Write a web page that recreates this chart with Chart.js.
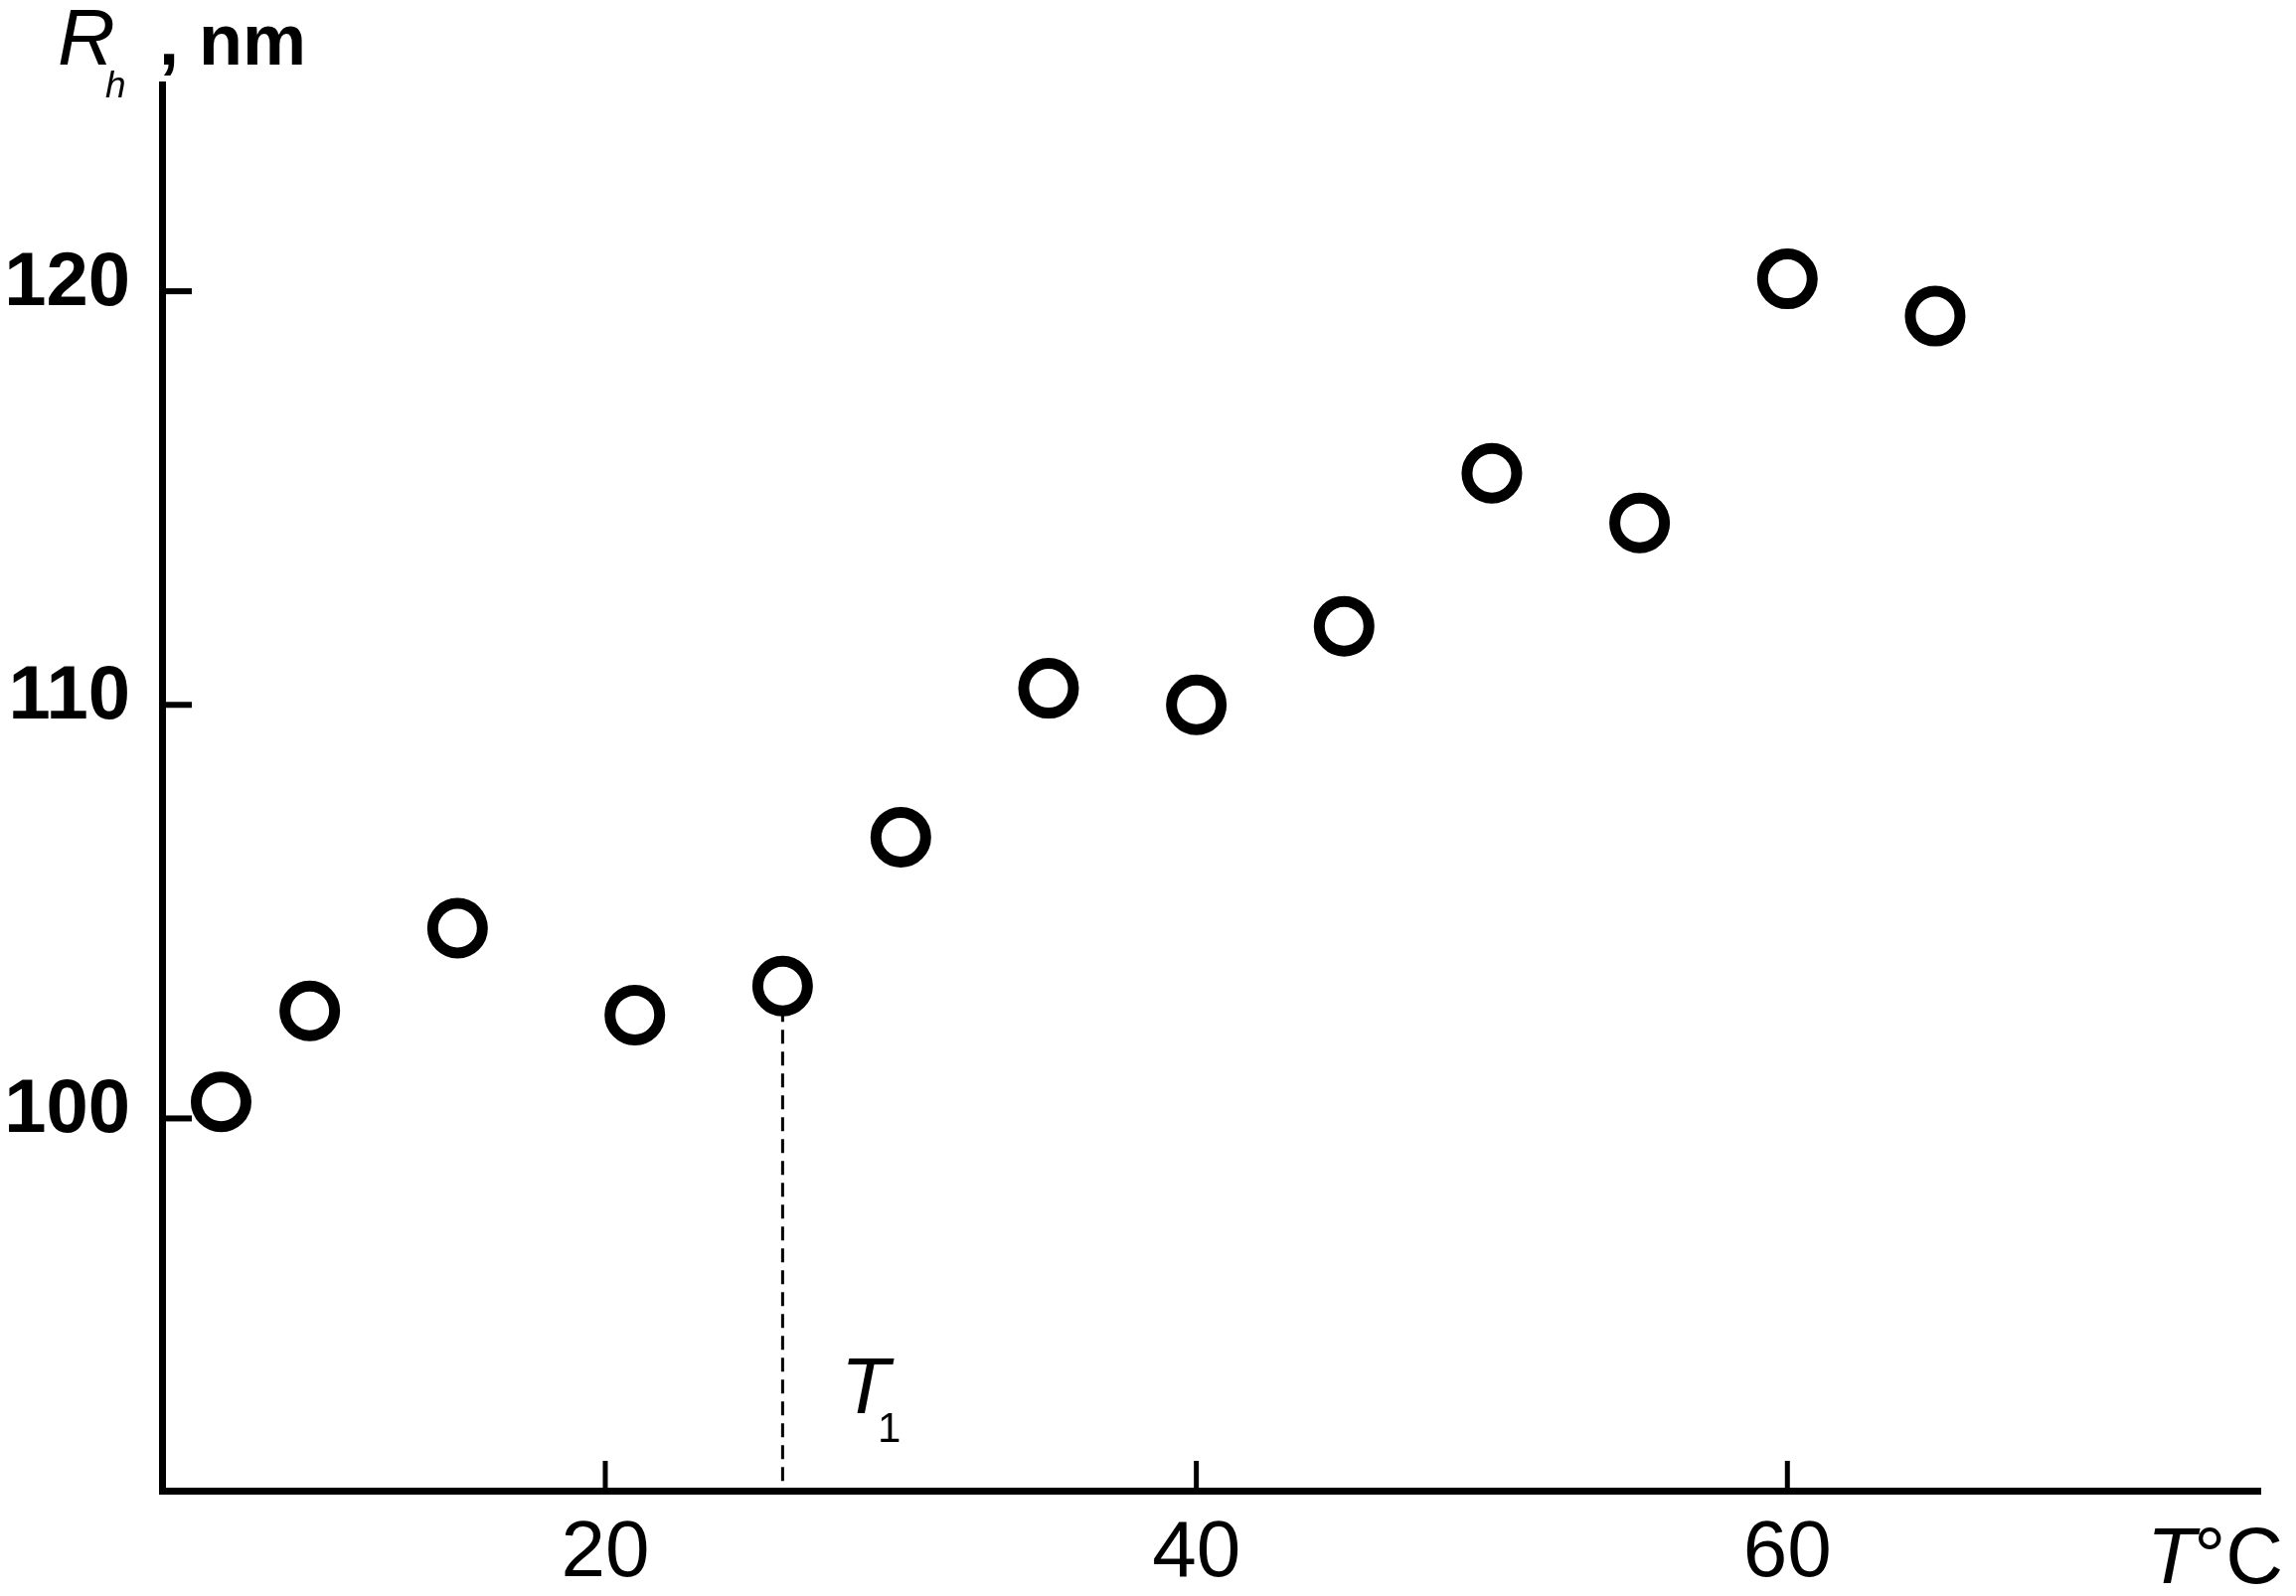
<!DOCTYPE html>
<html>
<head>
<meta charset="utf-8">
<script src="https://cdn.jsdelivr.net/npm/chart.js@4.4.0/dist/chart.umd.min.js"></script>
<style>
html, body { margin: 0; padding: 0; background: #fff; }
canvas { display: block; }
</style>
</head>
<body>
<canvas id="rh" width="2310" height="1606"></canvas>
<script>
// temperature (deg C) and hydrodynamic radius (nm)
var temps = [7, 10, 15, 21, 26, 30, 35, 40, 45, 50, 55, 60, 65]
var radii = [100.4, 102.6, 104.6, 102.5, 103.2, 106.8, 110.4, 110.0, 111.9, 115.6, 114.4, 120.3, 119.4]
var xTicks = [20, 40, 60]
var yTicks = [100, 110, 120]
var t1 = 26
var t1Radius = 103.2

var NARROW = "'Liberation Sans Narrow', 'Arial Narrow', 'Liberation Sans', sans-serif"
var SANS = "'Liberation Sans', Arial, sans-serif"

var points = []
for (var i = 0; i < temps.length; i++) {
	points.push({ x: temps[i], y: radii[i] })
}

// short ticks pointing into the plot, T1 marker and axis captions
var extras = {
	id: 'extras',
	beforeDatasetsDraw: function (chart) {
		var ctx = chart.ctx
		var xs = chart.scales.x
		var ys = chart.scales.y
		var area = chart.chartArea
		ctx.save()
		ctx.strokeStyle = '#000'
		ctx.lineWidth = 6
		for (var v of yTicks) {
			var py = ys.getPixelForValue(v)
			ctx.beginPath()
			ctx.moveTo(area.left, py)
			ctx.lineTo(area.left + 30, py)
			ctx.stroke()
		}
		ctx.lineWidth = 5
		for (var v of xTicks) {
			var px = xs.getPixelForValue(v)
			ctx.beginPath()
			ctx.moveTo(px, area.bottom)
			ctx.lineTo(px, area.bottom - 30)
			ctx.stroke()
		}
		// dashed drop line at T1
		var dx = xs.getPixelForValue(t1)
		ctx.lineWidth = 3
		ctx.setLineDash([14, 8])
		ctx.beginPath()
		ctx.moveTo(dx, ys.getPixelForValue(t1Radius))
		ctx.lineTo(dx, area.bottom)
		ctx.stroke()
		ctx.restore()
	},
	afterDraw: function (chart) {
		var ctx = chart.ctx
		ctx.save()
		ctx.fillStyle = '#000'
		ctx.textBaseline = 'alphabetic'
		ctx.textAlign = 'left'
		// R_h , nm
		ctx.font = 'italic 80px ' + SANS
		ctx.fillText('R', 58, 65)
		ctx.font = 'italic 37px ' + SANS
		ctx.fillText('h', 106, 98)
		ctx.font = 'bold 72px ' + SANS
		ctx.fillText(',', 160, 65)
		ctx.fillText('nm', 200, 65)
		// T degC
		ctx.font = 'italic 80px ' + NARROW
		ctx.fillText('T', 2160, 1593)
		ctx.font = '80px ' + NARROW
		ctx.textAlign = 'right'
		ctx.fillText('\u00b0C', 2297, 1593)
		// T1
		ctx.textAlign = 'left'
		ctx.font = 'italic 80px ' + NARROW
		ctx.fillText('T', 846, 1422)
		ctx.font = '42px ' + NARROW
		ctx.fillText('1', 883, 1451)
		ctx.restore()
	}
}

var ctxL = document.getElementById('rh').getContext('2d')
var rhChart = new Chart(ctxL, {
	type: 'scatter',
	data: {
		datasets: [
			{
				data: points,
				pointRadius: 25,
				pointHoverRadius: 25,
				pointBorderWidth: 11,
				pointBackgroundColor: '#fff',
				pointBorderColor: '#000',
				clip: false
			}
		]
	},
	options: {
		responsive: false,
		animation: false,
		events: [],
		layout: { padding: { top: 85, right: 26, left: 0, bottom: 0 } },
		plugins: {
			legend: { display: false },
			tooltip: { enabled: false }
		},
		scales: {
			x: {
				type: 'linear',
				min: 5,
				max: 76,
				afterBuildTicks: function (s) { s.ticks = xTicks.map(function (v) { return { value: v } }) },
				afterFit: function (s) { s.height = 106 },
				grid: { display: false, drawTicks: false },
				border: { display: true, color: '#000', width: 7 },
				ticks: {
					color: '#000',
					padding: 16,
					maxRotation: 0,
					font: { family: NARROW, size: 80 }
				}
			},
			y: {
				type: 'linear',
				min: 91,
				max: 125,
				afterBuildTicks: function (s) { s.ticks = yTicks.map(function (v) { return { value: v } }) },
				afterFit: function (s) { s.width = 163 },
				grid: { display: false, drawTicks: false },
				border: { display: true, color: '#000', width: 7 },
				ticks: {
					color: '#000',
					padding: 32,
					labelOffset: -7,
					font: { family: SANS, size: 76, weight: 'bold' }
				}
			}
		}
	},
	plugins: [extras]
})
</script>
</body>
</html>
